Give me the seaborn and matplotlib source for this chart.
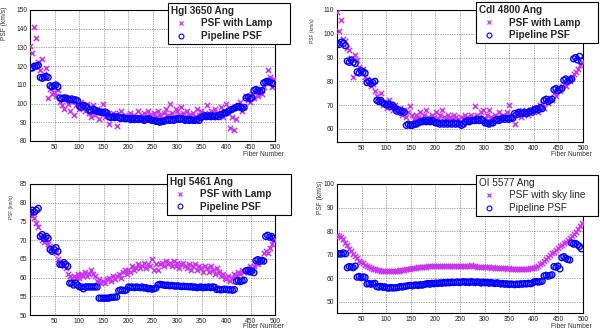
import numpy as np
import pandas as pd
import seaborn as sns
import matplotlib.pyplot as plt
from matplotlib.lines import Line2D
from matplotlib.ticker import MultipleLocator, AutoMinorLocator

sns.set_style('white')
plt.rcParams['font.family'] = ['Liberation Sans', 'DejaVu Sans']

# fiber index, one sample every 4 fibers
fiber = np.arange(1, 501, 4)

# ---- HgI 3650 ----
hg3650_lamp = [131, 127, 141, 135, 122, 118, 124, 116, 119, 103,
               108, 105, 106, 104, 107, 101, 99, 97, 103, 100,
               96, 101, 94, 99, 100, 97, 101, 99, 96, 100,
               95, 93, 99, 94, 97, 92, 96, 100, 93, 95,
               89, 94, 95, 93, 88, 95, 96, 93, 94, 92,
               93, 95, 91, 94, 93, 96, 92, 94, 95, 93,
               96, 94, 92, 95, 93, 96, 94, 92, 95, 97,
               94, 100, 95, 93, 97, 96, 94, 98, 95, 93,
               96, 94, 92, 95, 93, 97, 94, 96, 93, 95,
               99, 94, 96, 93, 97, 95, 94, 98, 93, 96,
               100, 95, 87, 93, 86, 92, 99, 101, 96, 98,
               104, 102, 101, 105, 103, 106, 104, 108, 105, 109,
               112, 118, 114, 109, 113]
hg3650_pipe = [119, 119, 120, 120, 120.5, 114, 113.5, 114, 114.5, 114,
               109.5, 109, 109.5, 110, 109, 103, 102.5, 103, 103, 102.5,
               102, 102.5, 102, 102, 101.5, 98.5, 98, 99, 98.5, 98,
               96.5, 96, 97, 96.5, 96, 95.5, 95.5, 95, 95.5, 95,
               93, 92.5, 93, 92.5, 93, 92.5, 92, 92.5, 92, 92,
               92, 91.5, 92, 91.5, 92, 91.5, 92, 91.5, 91, 91.5,
               92, 91.5, 91, 91, 90.5, 90.5, 90, 90.5, 90.5, 91,
               91.5, 91, 91.5, 91, 91.5, 92, 91.5, 92, 91.5, 91,
               91.5, 91, 91.5, 91, 91, 91.5, 91, 92.5, 93, 93.5,
               93, 93.5, 93, 93.5, 93, 93.5, 93, 94, 94.5, 95,
               95, 96, 96.5, 97, 97.5, 98, 98.5, 98, 97.5, 98,
               103, 103.5, 102.5, 103, 107, 107.5, 107, 106.5, 107, 111,
               111.5, 112, 111.5, 111, 110.5]

# ---- CdI 4800 ----
cd4800_lamp = [109, 101, 106, 98, 97, 94, 93, 90, 82, 91,
               89, 86, 84, 85, 82, 81, 80, 78, 79, 76,
               74, 72, 75, 70, 71, 69, 72, 70, 68, 70,
               68, 67, 69, 66, 68, 65, 67, 69.5, 66, 64,
               66, 65, 67, 64, 66, 68, 65, 64, 66, 65,
               67, 64, 66, 68, 65, 64, 66, 65, 64, 66,
               65, 64, 63, 65, 64, 66, 65, 64, 66, 65,
               69.5, 66, 65, 67, 68, 64, 66, 68, 65, 64,
               66, 65, 67, 64, 66, 65, 67, 70, 66, 65,
               62, 66, 67, 65, 68, 66, 67, 66, 68, 67,
               69, 68, 67, 70, 71, 69, 72, 71, 73, 72,
               75, 74, 77, 76, 78, 79, 78, 81, 80, 82,
               83, 84, 85, 87, 88]
cd4800_pipe = [96, 95.5, 96.5, 96, 95, 88.5, 88, 89, 88, 87.5,
               84, 83.5, 84.5, 84, 83.5, 79.5, 80, 79, 79.5, 80,
               72, 71.5, 72, 71, 70.5, 70, 70.5, 69.5, 70, 69,
               67.5, 68, 67, 67.5, 67, 61.5, 62, 61.5, 61.5, 62,
               62, 62.5, 63, 63, 63.5, 63, 63.5, 63, 63.5, 63,
               62.5, 62.5, 62, 62.5, 62, 62.5, 62, 62.5, 62, 62.5,
               62, 62.5, 62, 61.5, 62, 63, 63.5, 63, 63.5, 63.5,
               63.5, 64, 63.5, 64, 63.5, 62.5, 62.5, 62, 62.5, 62.5,
               63.5, 64, 63.5, 64, 64.5, 64, 64.5, 64, 64.5, 64.5,
               66.5, 66, 67, 66.5, 66.5, 67, 66.5, 67, 67.5, 67,
               68, 68.5, 68, 69, 68.5, 72, 72.5, 71.5, 72, 72.5,
               76.5, 77, 76, 76.5, 77, 80.5, 81, 80, 80.5, 81,
               89.5, 90, 89, 90.5, 88.5]

# ---- HgI 5461 ----
hg5461_lamp = [77, 76.5, 76, 74.5, 73.5, 71, 70, 69.5, 70, 69,
               68.5, 68, 67, 66.5, 65, 64, 63.5, 63, 62.5, 61,
               60.5, 59.5, 60.5, 60, 61, 60, 61, 60.5, 61.5, 60.5,
               61, 62, 61, 60.5, 59, 59.5, 58.5, 59, 58.5, 59.5,
               60, 59, 60.5, 59.5, 60.5, 61, 60, 61.5, 62, 61,
               62, 61.5, 63, 62, 62.5, 63.5, 62.5, 63, 64, 62.5,
               63.5, 63, 65, 62, 63.5, 62, 63.5, 64, 63, 64.5,
               63.5, 64, 63, 64.5, 63, 64, 62.5, 63.5, 64, 63,
               62.5, 63.5, 62, 63, 63.5, 62, 63, 62.5, 61.5, 63,
               62.5, 61.5, 63, 62, 61, 62.5, 61.5, 60.5, 61, 60,
               59.5, 60.5, 59, 60, 61, 60.5, 61.5, 61, 62, 61.5,
               62, 61.5, 63, 62, 63, 64, 63.5, 65, 64.5, 66.5,
               67, 66.5, 68, 69, 70]
hg5461_pipe = [77.5, 78, 77.5, 78, 78.5, 71, 71.5, 70.5, 71, 70.5,
               67.5, 67, 67.5, 68, 67, 63.5, 63.5, 64, 63.5, 63,
               58.5, 58.5, 58, 58.5, 58, 57.5, 57.5, 57, 57.5, 57.5,
               57.5, 57.5, 57.5, 57.5, 57.5, 54.5, 54.5, 54.5, 54.5, 54.5,
               54.5, 54.7, 54.7, 54.8, 54.8, 56.5, 56.7, 56.6, 56.5, 56.7,
               57.5, 57.4, 57.5, 57.3, 57.5, 57.4, 57.3, 57.5, 57.2, 57.3,
               57, 57.1, 56.9, 57, 57.2, 58, 58.2, 58.1, 58, 57.9,
               58, 57.8, 57.9, 57.8, 57.7, 57.8, 57.7, 57.6, 57.7, 57.6,
               57.6, 57.5, 57.6, 57.4, 57.5, 57.3, 57.4, 57.5, 57.3, 57.4,
               57.4, 57.5, 57.3, 57.5, 57.4, 56.8, 56.9, 56.7, 56.8, 56.9,
               56.8, 56.7, 56.8, 56.6, 56.8, 59, 59.2, 58.9, 59.1, 59.3,
               61.8, 62, 61.5, 61.8, 61.3, 64.5, 64.8, 64.3, 64.6, 64.4,
               71, 71.3, 70.8, 71, 70.5]

# ---- OI 5577 ----
oi5577_sky = [78.5, 78, 77.5, 76.5, 75, 74, 72.5, 71.5, 70.5, 69.5,
              68.5, 67.5, 67, 66.3, 65.8, 65.2, 64.8, 64.4, 64, 63.8,
              63.6, 63.4, 63.3, 63.2, 63.1, 63.1, 63, 63.1, 63, 63.1,
              63.2, 63.3, 63.4, 63.5, 63.7, 63.8, 64, 64.1, 64.3, 64.4,
              64.5, 64.6, 64.7, 64.8, 64.9, 65, 65.1, 65.1, 65.2, 65.2,
              65.3, 65.2, 65.3, 65.4, 65.3, 65.4, 65.3, 65.2, 65.3, 65.2,
              65.3, 65.2, 65.4, 65.3, 65.2, 65.3, 65.1, 65.3, 65.5, 65.2,
              65.1, 65, 64.9, 65, 64.8, 64.7, 64.8, 64.6, 64.5, 64.6,
              64.5, 64.4, 64.3, 64.4, 64.2, 64.3, 64.1, 64.2, 64, 64.1,
              64, 64.1, 63.9, 64, 64.1, 63.9, 64, 64.1, 64.2, 64.3,
              64.5, 64.8, 65.3, 65.9, 66.6, 67.4, 68.2, 69, 69.8, 70.6,
              71.3, 72, 72.8, 73.5, 74.3, 75, 75.5, 76.3, 77, 78,
              79, 79.8, 80.8, 82, 83.5]
oi5577_pipe = [70.2, 70.5, 70.3, 70.8, 70.4, 64.5, 65, 64.8, 64.5, 65.2,
               60.5, 60.8, 60.3, 60.6, 60.4, 57.6, 57.8, 57.5, 57.7, 57.9,
               56.5, 56.3, 56.6, 56.2, 56.4, 56, 55.8, 56.1, 55.9, 56,
               56, 56.2, 56.5, 56.3, 56.6, 56.7, 56.9, 57, 56.8, 57.1,
               57.2, 57, 57.3, 57.1, 57.4, 57.6, 57.8, 57.5, 57.9, 57.7,
               58, 57.8, 58.1, 57.9, 58.2, 58, 58.3, 58.1, 58.4, 58.2,
               58.3, 58.5, 58.2, 58.4, 58.6, 58.3, 58.5, 58.2, 58.6, 58.4,
               58.2, 58.5, 58.3, 58, 58.4, 58.1, 58.3, 57.9, 58.2, 58,
               57.8, 58.1, 57.9, 57.6, 57.8, 57.5, 57.7, 57.4, 57.6, 57.5,
               57.3, 57.6, 57.4, 57.7, 57.5, 57.8, 57.6, 57.9, 57.7, 58,
               58.5, 58.7, 58.4, 58.6, 58.8, 61, 61.3, 60.9, 61.2, 61.5,
               65, 64.7, 65.2, 64, 68.8, 69.2, 68.5, 68, 67.8, 75,
               74.5, 74.8, 74.2, 73.5, 72.5]

titles = ['HgI 3650 Ang', 'CdI 4800 Ang', 'HgI 5461 Ang', 'OI 5577 Ang']
lamp_labels = ['PSF with Lamp', 'PSF with Lamp', 'PSF with Lamp', 'PSF with sky line']
lamp_data = [hg3650_lamp, cd4800_lamp, hg5461_lamp, oi5577_sky]
pipe_data = [hg3650_pipe, cd4800_pipe, hg5461_pipe, oi5577_pipe]
y_ranges = [(80, 150), (54.5, 110), (50, 85), (45.3, 100)]
y_steps = [10, 10, 5, 10]

MAG = '#cc33ee'
BLUE = '#0000ff'

W, H = 600, 330
fig = plt.figure(figsize=(6, 3.3), dpi=100)

# axes boxes in pixels: left, top, right, bottom
boxes = [(30, 10, 275, 141), (337, 10, 583, 142), (30, 184, 275, 315), (337, 184, 583, 313)]
# legend boxes: left, top, right
leg_boxes = [(168, 3, 290), (476, 2, 598), (167, 174, 291), (476, 175, 598)]
# y label (x center, top, size) and x label (right, y center)
ylab_pos = [(5, 7, 4.8), (313, 18, 3.6), (12, 195, 3.4), (321, 181, 4.8)]
xlab_pos = [(284, 154), (592, 154), (284, 327), (592, 327)]

for i in range(4):
    l, t, r, b = boxes[i]
    ax = fig.add_axes([l / W, 1 - b / H, (r - l) / W, (b - t) / H])

    df_lamp = pd.DataFrame({'fiber': fiber, 'psf': lamp_data[i]})
    df_pipe = pd.DataFrame({'fiber': fiber, 'psf': pipe_data[i]})

    sns.scatterplot(data=df_lamp, x='fiber', y='psf', ax=ax, marker='x',
                    s=14, color=MAG, linewidth=1.1, zorder=3)
    sns.scatterplot(data=df_pipe, x='fiber', y='psf', ax=ax, marker='o',
                    s=18, color=BLUE, linewidth=1.0, zorder=4)
    ax.collections[-1].set_facecolor('none')
    ax.collections[-1].set_edgecolor(BLUE)

    ax.set_xlim(0, 500)
    ax.set_ylim(*y_ranges[i])
    ax.set_xticks(np.arange(50, 501, 50))
    ax.xaxis.set_minor_locator(MultipleLocator(10))
    ax.yaxis.set_major_locator(MultipleLocator(y_steps[i]))
    ax.yaxis.set_minor_locator(AutoMinorLocator(5))
    ax.tick_params(which='major', direction='in', length=4, width=0.6,
                   labelsize=4.8, labelcolor='#222222', pad=2)
    ax.tick_params(which='minor', direction='in', length=2, width=0.5)
    ax.grid(True, which='major', color='#555555', linestyle=(0, (1, 1.5)), linewidth=0.5)
    for sp in ax.spines.values():
        sp.set_color('black')
        sp.set_linewidth(0.8)
    ax.set_xlabel('')
    ax.set_ylabel('')

    xc, yt, fs = ylab_pos[i]
    fig.text(xc / W, 1 - yt / H, 'PSF (km/s)', rotation=90, ha='center', va='top',
             fontsize=fs, color='#333333')
    xr, yc = xlab_pos[i]
    fig.text(xr / W, 1 - yc / H, 'Fiber Number', ha='right', va='center',
             fontsize=4.8, color='#333333')

    weight = 'normal' if i == 3 else 'bold'
    handles = [Line2D([], [], ls='', marker='x', color=MAG, ms=3.5, mew=0.9),
               Line2D([], [], ls='', marker='o', mfc='none', mec=BLUE, ms=3.5, mew=0.8)]
    ll, lt, lr = leg_boxes[i]
    leg = ax.legend(handles, [lamp_labels[i], 'Pipeline PSF'], title=titles[i],
                    loc='upper left', bbox_to_anchor=(ll / W, 1 - lt / H, (lr - ll) / W, 0),
                    bbox_transform=fig.transFigure, mode='expand', alignment='left',
                    prop={'size': 7.2, 'weight': weight},
                    title_fontproperties={'size': 7.2, 'weight': weight},
                    frameon=True, fancybox=False, framealpha=1, edgecolor='black',
                    borderpad=0.3, labelspacing=0.25, handlelength=2.0,
                    handletextpad=1.0, borderaxespad=0)
    leg.get_frame().set_linewidth(0.8)
    leg.set_zorder(10)

fig.savefig('out.png', dpi=100)
